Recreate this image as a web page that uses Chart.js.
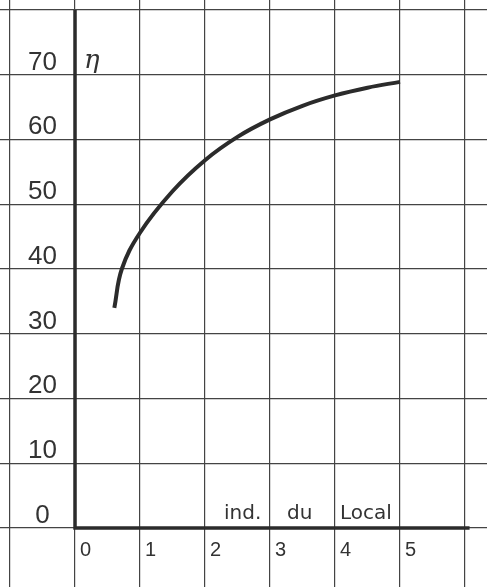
<!DOCTYPE html>
<html>
<head>
<meta charset="utf-8">
<script src="https://cdn.jsdelivr.net/npm/chart.js@4"></script>
<style>
  html, body { margin: 0; padding: 0; background: #fff; }
  #wrap { width: 487px; height: 587px; }
</style>
</head>
<body>
<div id="wrap"><canvas id="chart" width="487" height="587"></canvas></div>
<script>
// curve: index du local vs eta
const localIndex = [0.605, 0.72, 1, 1.5, 2, 2.5, 3, 3.5, 4, 4.5, 5];
const eta = [34, 40, 45.6, 52.0, 56.8, 60.4, 63.1, 65.2, 66.8, 68.0, 68.9];

const xTickLabels = ["0", "1", "2", "3", "4", "5"];
const yTickLabels = ["0", "10", "20", "30", "40", "50", "60", "70"];
const xGrid = [-1, 0, 1, 2, 3, 4, 5, 6];
const yGrid = [-10, 0, 10, 20, 30, 40, 50, 60, 70, 80];
const xAxisLabel = ["ind.", "du", "Local"];

const ink = "#2b2b2b";

const paperPlugin = {
  id: "paper",
  afterDatasetsDraw(chart) {
    const ctx = chart.ctx;
    const xs = chart.scales.x;
    const ys = chart.scales.y;
    ctx.save();

    // thick axes
    ctx.strokeStyle = ink;
    ctx.lineWidth = 3.5;
    ctx.lineCap = "butt";
    ctx.beginPath();
    ctx.moveTo(xs.getPixelForValue(0), ys.getPixelForValue(80));
    ctx.lineTo(xs.getPixelForValue(0), ys.getPixelForValue(0));
    ctx.lineTo(xs.getPixelForValue(6.07), ys.getPixelForValue(0));
    ctx.stroke();

    ctx.fillStyle = "#333";
    // y tick labels
    ctx.font = "26px 'Liberation Sans'";
    ctx.textAlign = "center";
    ctx.textBaseline = "alphabetic";
    const cx = (xs.getPixelForValue(-1) + xs.getPixelForValue(0)) / 2;
    yTickLabels.forEach((t) => {
      ctx.fillText(t, cx, ys.getPixelForValue(Number(t)) - 5);
    });

    // x tick labels
    ctx.font = "20px 'Liberation Sans'";
    ctx.textAlign = "left";
    xTickLabels.forEach((t) => {
      ctx.fillText(t, xs.getPixelForValue(Number(t)) + 5, ys.getPixelForValue(0) + 28);
    });

    // axis labels
    ctx.font = "20px 'DejaVu Sans'";
    ctx.textAlign = "left";
    const base = ys.getPixelForValue(0) - 9;
    ctx.fillText(xAxisLabel[0], xs.getPixelForValue(2) + 19, base);
    ctx.fillText(xAxisLabel[1], xs.getPixelForValue(3) + 17, base);
    ctx.fillText(xAxisLabel[2], xs.getPixelForValue(4) + 5, base);

    ctx.font = "italic 26px 'DejaVu Serif'";
    ctx.fillText("η", xs.getPixelForValue(0) + 9, ys.getPixelForValue(70) - 7);
    ctx.restore();
  }
};

new Chart(document.getElementById("chart"), {
  type: "line",
  data: {
    datasets: [{
      data: localIndex.map((x, i) => ({ x: x, y: eta[i] })),
      borderColor: ink,
      borderWidth: 4,
      pointRadius: 0,
      tension: 0.4,
      fill: false
    }]
  },
  options: {
    responsive: false,
    animation: false,
    layout: { padding: 0 },
    plugins: { legend: { display: false }, tooltip: { enabled: false } },
    scales: {
      x: {
        type: "linear",
        min: -1.154,
        max: 6.338,
        afterBuildTicks: (s) => { s.ticks = xGrid.map((v) => ({ value: v })); },
        ticks: { display: false },
        grid: { color: "#444", lineWidth: 1.2, drawTicks: false },
        border: { display: false }
      },
      y: {
        type: "linear",
        min: -9.11,
        max: 81.54,
        afterBuildTicks: (s) => { s.ticks = yGrid.map((v) => ({ value: v })); },
        ticks: { display: false },
        grid: { color: "#444", lineWidth: 1.2, drawTicks: false },
        border: { display: false }
      }
    }
  },
  plugins: [paperPlugin]
});
</script>
</body>
</html>
